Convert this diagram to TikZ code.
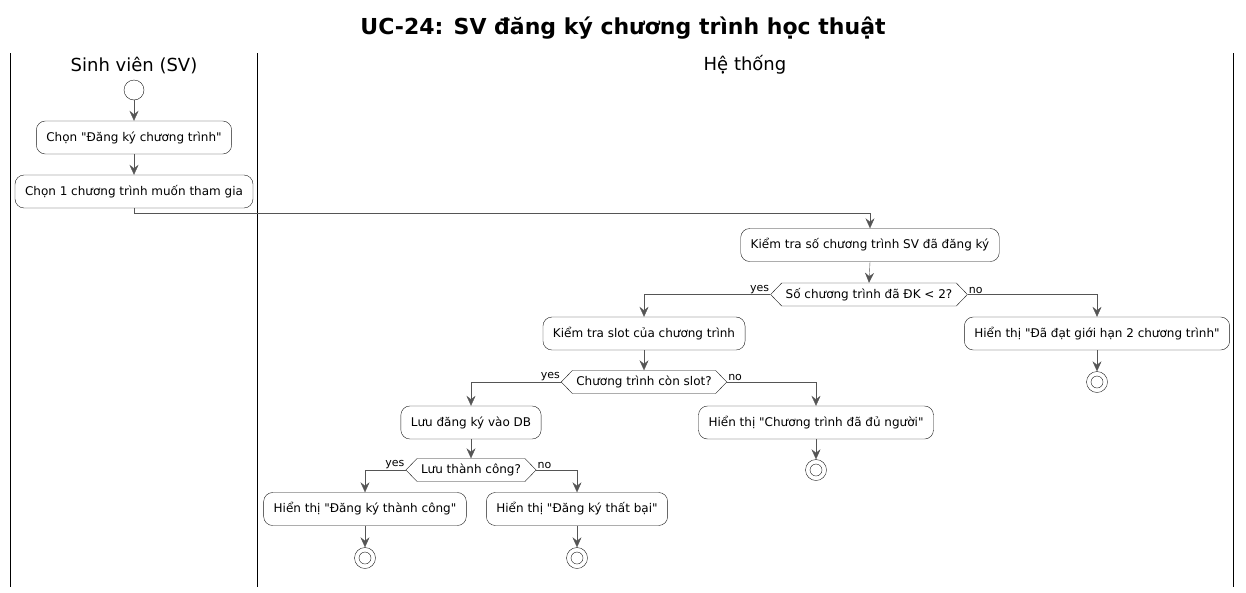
\documentclass[tikz,border=0pt]{standalone}
\usepackage{fontspec}
\setmainfont{DejaVu Sans}[Ligatures=TeXOff]
\usetikzlibrary{arrows.meta,shapes.symbols}

\definecolor{bordercolor}{RGB}{24,24,24}
\definecolor{flowcolor}{RGB}{85,85,85}

\tikzset{
  action/.style={draw=bordercolor, fill=white, rounded corners=9pt, minimum height=33pt,
    inner xsep=10pt, font=\fontsize{12}{14}\selectfont},
  decision/.style={draw=bordercolor, fill=white, shape=signal, signal to=west and east,
    signal pointer angle=92, minimum height=23pt, inner xsep=4pt, inner ysep=2pt,
    font=\fontsize{12}{14}\selectfont},
  startnode/.style={circle, draw=bordercolor, fill=white, minimum size=20pt, inner sep=0pt},
  stopnode/.style={circle, draw=bordercolor, fill=white, minimum size=21pt, inner sep=0pt,
    path picture={\draw[bordercolor] (path picture bounding box.center) circle (6pt);}},
  flow/.style={draw=flowcolor, -{Stealth[length=10pt,width=9pt,inset=3.5pt]}},
  guard/.style={font=\fontsize{11}{12}\selectfont, inner sep=1pt},
  lane/.style={font=\fontsize{18}{20}\selectfont}
}

\begin{document}
\begin{tikzpicture}[x=1pt,y=-1pt]
  \useasboundingbox (0,0) rectangle (1246,592);

  % Title
  \node[font=\fontsize{22}{24}\selectfont\bfseries] (title) at (623,28) {UC-24: SV đăng ký chương trình học thuật};

  % Swimlanes
  \foreach \x in {10,257,1233} {
    \draw[black] (\x,53) -- (\x,587);
  }
  \node[lane] (laneSV) at (134,65) {Sinh viên (SV)};
  \node[lane] (laneHT) at (745,65) {Hệ thống};

  % Student lane
  \node[startnode] (start) at (134,90) {};
  \node[action] (chooseMenu) at (134,137.5) {Chọn "Đăng ký chương trình"};
  \node[action] (chooseProg) at (134,191.5) {Chọn 1 chương trình muốn tham gia};

  % System lane
  \node[action] (checkCount) at (870,245) {Kiểm tra số chương trình SV đã đăng ký};
  \node[decision] (isUnder) at (869,294.5) {Số chương trình đã ĐK < 2?};
  \node[action] (checkSlot) at (644,333.5) {Kiểm tra slot của chương trình};
  \node[action] (showLimit) at (1097,333.5) {Hiển thị "Đã đạt giới hạn 2 chương trình"};
  \node[stopnode] (stopLimit) at (1097,382) {};
  \node[decision] (hasSlot) at (644,382) {Chương trình còn slot?};
  \node[action] (saveDB) at (471,422.5) {Lưu đăng ký vào DB};
  \node[action] (showFull) at (816,422.5) {Hiển thị "Chương trình đã đủ người"};
  \node[stopnode] (stopFull) at (816,470) {};
  \node[decision] (isSaved) at (471,470) {Lưu thành công?};
  \node[action] (showOK) at (365,509) {Hiển thị "Đăng ký thành công"};
  \node[action] (showFail) at (577,509) {Hiển thị "Đăng ký thất bại"};
  \node[stopnode] (stopOK) at (365,558) {};
  \node[stopnode] (stopFail) at (577,558) {};

  % Straight connectors
  \foreach \a/\b in {start/chooseMenu, chooseMenu/chooseProg, checkCount/isUnder,
                     checkSlot/hasSlot, saveDB/isSaved, showLimit/stopLimit,
                     showFull/stopFull, showOK/stopOK, showFail/stopFail} {
    \draw[flow] (\a.south) -- (\b.north);
  }

  % Lane crossing
  \draw[flow] (chooseProg.south) -- ++(0,5) -| (checkCount.north);

  % Branches
  \draw[flow] (isUnder.west) node[guard, above left] {yes} -| (checkSlot.north);
  \draw[flow] (isUnder.east) node[guard, above right] {no} -| (showLimit.north);
  \draw[flow] (hasSlot.west) node[guard, above left] {yes} -| (saveDB.north);
  \draw[flow] (hasSlot.east) node[guard, above right] {no} -| (showFull.north);
  \draw[flow] (isSaved.west) node[guard, above left] {yes} -| (showOK.north);
  \draw[flow] (isSaved.east) node[guard, above right] {no} -| (showFail.north);
\end{tikzpicture}
\end{document}
